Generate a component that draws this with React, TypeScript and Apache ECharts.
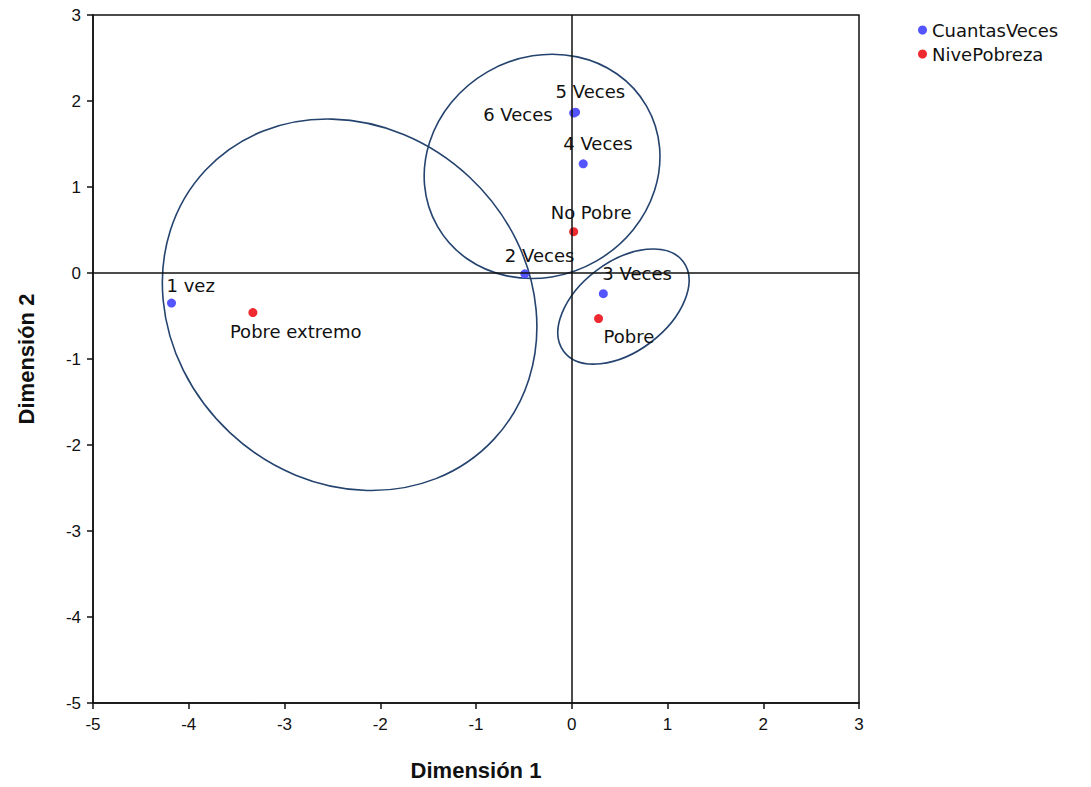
import React, { useEffect, useRef } from "react";
import * as echarts from "echarts";

// Category points (Dimensión 1, Dimensión 2)
const cuantasNames = ["1 vez", "2 Veces", "3 Veces", "4 Veces", "5 Veces", "6 Veces"];
const cuantasX = [-4.18, -0.49, 0.33, 0.12, 0.04, 0.02];
const cuantasY = [-0.35, -0.01, -0.24, 1.27, 1.87, 1.86];

const pobrezaNames = ["Pobre extremo", "No Pobre", "Pobre"];
const pobrezaX = [-3.33, 0.02, 0.28];
const pobrezaY = [-0.46, 0.48, -0.53];

// Ellipses: center x, center y, semi-axes (in Dimensión 1 units), rotation (deg)
const ellipseCX = [-2.32, -0.31, 0.54];
const ellipseCY = [-0.37, 1.24, -0.39];
const ellipseA = [2.06, 1.26, 0.78];
const ellipseB = [1.83, 1.14, 0.47];
const ellipseRot = [-43, 30, 37];

const axisTicks = [-5, -4, -3, -2, -1, 0, 1, 2, 3];

// label placement (style): [dx, dy, align]
const cuantasLabelPos: [number, number, string][] = [
  [-5, -18, "left"],
  [-20, -18, "left"],
  [-1, -20, "left"],
  [-20, -20, "left"],
  [-20, -21, "left"],
  [-21, 1, "right"],
];
const pobrezaLabelPos: [number, number, string][] = [
  [-23, 19, "left"],
  [-23, -19, "left"],
  [5, 18, "left"],
];

const LABEL_FONT = "DejaVu Sans";
const AXIS_FONT = "Liberation Sans";

function mkPoints(names: string[], xs: number[], ys: number[], pos: [number, number, string][]) {
  return names.map((n, i) => ({
    name: n,
    value: [xs[i], ys[i]],
    label: {
      show: true,
      position: "inside",
      align: pos[i][2],
      verticalAlign: "middle",
      offset: [pos[i][0], pos[i][1]],
    },
  }));
}

export default function App() {
  const ref = useRef<HTMLDivElement>(null);
  useEffect(() => {
    if (!ref.current) return;
    const chart = echarts.init(ref.current, undefined, { renderer: "svg" });
    const ellipseData = ellipseCX.map((cx, i) => [cx, ellipseCY[i], ellipseA[i], ellipseB[i], ellipseRot[i]]);
    const axisCommon = {
      min: axisTicks[0],
      max: axisTicks[axisTicks.length - 1],
      interval: 1,
      splitLine: { show: false },
      axisLine: { show: true, onZero: false, lineStyle: { color: "#111", width: 1.5 } },
      axisTick: { show: true, length: 6, lineStyle: { color: "#111", width: 1.5 } },
      axisLabel: { color: "#111", fontSize: 17, fontFamily: AXIS_FONT },
      nameLocation: "middle",
      nameTextStyle: { color: "#111", fontSize: 22, fontWeight: "bold", fontFamily: AXIS_FONT },
    };
    chart.setOption({
      animation: false,
      backgroundColor: "#fff",
      grid: {
        left: 93,
        top: 15,
        width: 766,
        height: 688,
        show: true,
        borderColor: "#111",
        borderWidth: 1.5,
        backgroundColor: "transparent",
      },
      legend: {
        orient: "vertical",
        left: 913,
        top: 16,
        icon: "circle",
        itemWidth: 9,
        itemHeight: 9,
        itemGap: 6,
        textStyle: { fontSize: 18, color: "#111", fontFamily: LABEL_FONT },
        data: ["CuantasVeces", "NivePobreza"],
      },
      xAxis: {
        ...axisCommon,
        type: "value",
        name: "Dimensión 1",
        nameGap: 56,
        axisLabel: { ...axisCommon.axisLabel, margin: 13 },
      },
      yAxis: {
        ...axisCommon,
        type: "value",
        name: "Dimensión 2",
        nameGap: 56,
        nameRotate: 90,
        axisLabel: { ...axisCommon.axisLabel, margin: 12 },
      },
      series: [
        {
          type: "custom",
          name: "ellipses",
          silent: true,
          clip: false,
          data: ellipseData,
          encode: { x: 0, y: 1 },
          renderItem: (params: any, api: any) => {
            const c = api.coord([api.value(0), api.value(1)]);
            const unit = api.size([1, 1])[0];
            return {
              type: "ellipse",
              x: c[0],
              y: c[1],
              rotation: (api.value(4) * Math.PI) / 180,
              shape: { cx: 0, cy: 0, rx: api.value(2) * unit, ry: api.value(3) * unit },
              style: { fill: "none", stroke: "#24436f", lineWidth: 1.6 },
            };
          },
          markLine: {
            silent: true,
            symbol: "none",
            label: { show: false },
            lineStyle: { color: "#111", width: 1.5, type: "solid" },
            data: [{ xAxis: 0 }, { yAxis: 0 }],
          },
          z: 1,
        },
        {
          type: "scatter",
          name: "CuantasVeces",
          symbol: "circle",
          symbolSize: 9,
          itemStyle: { color: "#5555ff", opacity: 1 },
          label: { color: "#111", fontSize: 18, fontFamily: LABEL_FONT, formatter: "{b}" },
          data: mkPoints(cuantasNames, cuantasX, cuantasY, cuantasLabelPos),
          z: 3,
        },
        {
          type: "scatter",
          name: "NivePobreza",
          symbol: "circle",
          symbolSize: 9,
          itemStyle: { color: "#ee2a30", opacity: 1 },
          label: { color: "#111", fontSize: 18, fontFamily: LABEL_FONT, formatter: "{b}" },
          data: mkPoints(pobrezaNames, pobrezaX, pobrezaY, pobrezaLabelPos),
          z: 3,
        },
      ],
    });
    return () => chart.dispose();
  }, []);
  return (
    <div
      ref={ref}
      style={{ position: "fixed", left: 0, top: 0, width: 1091, height: 787, background: "#fff" }}
    />
  );
}
